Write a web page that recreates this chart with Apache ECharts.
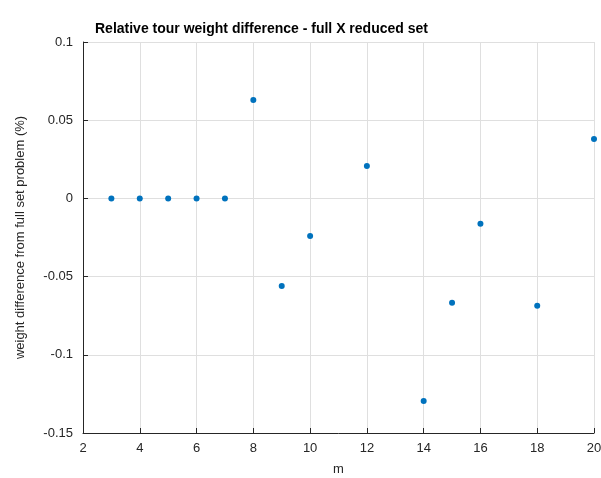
<!DOCTYPE html>
<html>
<head>
<meta charset="utf-8">
<script src="https://cdn.jsdelivr.net/npm/echarts@6/dist/echarts.min.js"></script>
<style>
  html, body { margin: 0; padding: 0; background: #fff; }
  #main { width: 601px; height: 478px; }
</style>
</head>
<body>
<div id="main"></div>
<script>
// m values and relative weight difference (%)
const mValues = [3, 4, 5, 6, 7, 8, 9, 10, 12, 14, 15, 16, 18, 20];
const weightDiff = [0, 0, 0, 0, 0, 0.0629, -0.056, -0.024, 0.0207, -0.1295, -0.0667, -0.0162, -0.0686, 0.038];

const chart = echarts.init(document.getElementById('main'));

const axisFont = { color: '#262626', fontSize: 13, fontFamily: 'Liberation Sans, Arial, sans-serif' };

const option = {
    animation: false,
    title: {
        text: 'Relative tour weight difference - full X reduced set',
        left: 90,
        top: 17,
        textStyle: { fontSize: 14, fontWeight: 'bold', color: '#000', fontFamily: 'Liberation Sans, Arial, sans-serif' }
    },
    grid: { left: 83, right: 7, top: 42, bottom: 45, containLabel: false, outerBoundsMode: 'none' },
    xAxis: {
        type: 'value',
        min: 2, max: 20, interval: 2,
        name: 'm',
        nameLocation: 'middle',
        nameGap: 30,
        nameTextStyle: axisFont,
        axisLine: { onZero: false, lineStyle: { color: '#262626', width: 1 } },
        axisTick: { inside: true, length: 5, lineStyle: { color: '#262626' } },
        axisLabel: Object.assign({ margin: 9 }, axisFont),
        splitLine: { show: true, lineStyle: { color: '#dfdfdf' } }
    },
    yAxis: {
        type: 'value',
        min: -0.15, max: 0.1, interval: 0.05,
        name: 'weight difference from full set problem (%)',
        nameLocation: 'middle',
        nameGap: 56,
        nameTextStyle: axisFont,
        axisLine: { show: true, onZero: false, lineStyle: { color: '#262626', width: 1 } },
        axisTick: { show: true, inside: true, length: 5, lineStyle: { color: '#262626' } },
        axisLabel: Object.assign({ margin: 10, formatter: v => String(Math.round(v * 100) / 100) }, axisFont),
        splitLine: { show: true, lineStyle: { color: '#dfdfdf' } }
    },
    series: [{
        type: 'scatter',
        data: mValues.map((m, i) => [m, weightDiff[i]]),
        symbolSize: 6,
        itemStyle: { color: '#0072bd', opacity: 1 },
        clip: false
    }]
};

chart.setOption(option);
</script>
</body>
</html>
